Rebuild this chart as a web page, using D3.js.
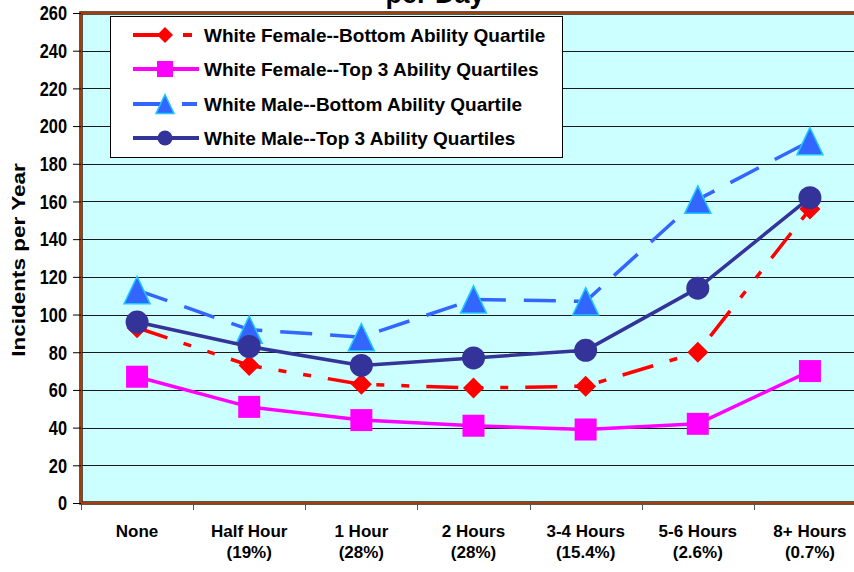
<!DOCTYPE html>
<html>
<head>
<meta charset="utf-8">
<script src="https://cdn.jsdelivr.net/npm/d3@7/dist/d3.min.js"></script>
<style>
  html, body { margin: 0; padding: 0; background: #ffffff; }
  svg { display: block; font-family: "Liberation Sans", Arial, sans-serif; font-weight: bold; }
</style>
</head>
<body>
<div id="chart"></div>
<script>
// Hours of TV per day (share of sample in parentheses)
const categories = ["None", "Half Hour", "1 Hour", "2 Hours", "3-4 Hours", "5-6 Hours", "8+ Hours"];
const shares = ["", "(19%)", "(28%)", "(28%)", "(15.4%)", "(2.6%)", "(0.7%)"];

// Incidents per year for each group
const femaleBottom = [93, 73, 63, 61, 62, 80, 156];
const femaleTop = [67, 51, 44, 41, 39, 42, 70];
const maleBottom = [113, 92, 88, 108, 107, 161, 192];
const maleTop = [96, 83, 73, 77, 81, 114, 162];

const seriesNames = [
  "White Female--Bottom Ability Quartile",
  "White Female--Top 3 Ability Quartiles",
  "White Male--Bottom Ability Quartile",
  "White Male--Top 3 Ability Quartiles"
];

const yTicks = [0, 20, 40, 60, 80, 100, 120, 140, 160, 180, 200, 220, 240, 260];

const W = 854, H = 572;
const plot = { left: 81, right: 866, top: 13, bottom: 503 };

const svg = d3.select("#chart").append("svg")
  .attr("width", W).attr("height", H);

const x = d3.scaleBand().domain(categories).range([plot.left, plot.right]).padding(0);
const y = d3.scaleLinear().domain([0, 260]).range([plot.bottom, plot.top]);
const cx = c => x(c) + x.bandwidth() / 2;

// Plot background
svg.append("rect")
  .attr("x", plot.left).attr("y", plot.top)
  .attr("width", plot.right - plot.left).attr("height", plot.bottom - plot.top)
  .attr("fill", "#CCFFFF");

// Horizontal gridlines
svg.append("g").selectAll("line")
  .data(yTicks.filter(t => t > 0 && t < 260))
  .join("line")
  .attr("x1", plot.left).attr("x2", plot.right)
  .attr("y1", d => Math.round(y(d)) + 0.5).attr("y2", d => Math.round(y(d)) + 0.5)
  .attr("stroke", "#1a1a1a").attr("stroke-width", 1);

// Plot frame: dark outline with brown core
svg.append("rect")
  .attr("x", plot.left).attr("y", plot.top)
  .attr("width", plot.right - plot.left).attr("height", plot.bottom - plot.top)
  .attr("fill", "none").attr("stroke", "#3a1a08").attr("stroke-width", 3.5);
svg.append("rect")
  .attr("x", plot.left).attr("y", plot.top)
  .attr("width", plot.right - plot.left).attr("height", plot.bottom - plot.top)
  .attr("fill", "none").attr("stroke", "#A0400A").attr("stroke-width", 2);

// Y axis
const yAxis = svg.append("g")
  .attr("transform", `translate(${plot.left},0)`)
  .call(d3.axisLeft(y).tickValues(yTicks).tickSize(8).tickPadding(6));
yAxis.select(".domain").remove();
yAxis.selectAll(".tick line").attr("stroke", "#000");
yAxis.selectAll(".tick text")
  .attr("font-size", 19.5).attr("font-weight", "bold").attr("fill", "#000")
  .attr("font-family", "'Liberation Sans', Arial, sans-serif")
  .attr("dy", "0.35em")
  // slightly condensed digits, right edge kept at the tick padding
  .attr("transform", "translate(-14,0) scale(0.84,1) translate(14,0)");

// X axis: tick marks at category boundaries
const xEdges = categories.map(c => x(c)).concat([plot.right]);
svg.append("g").selectAll("line")
  .data(xEdges)
  .join("line")
  .attr("x1", d => Math.round(d) + 0.5).attr("x2", d => Math.round(d) + 0.5)
  .attr("y1", plot.bottom).attr("y2", plot.bottom + 7)
  .attr("stroke", "#555").attr("stroke-width", 1);

// X category labels (two lines)
const xLab = svg.append("g").attr("font-size", 17).attr("fill", "#000").attr("text-anchor", "middle");
categories.forEach((c, i) => {
  xLab.append("text").attr("x", cx(c)).attr("y", 537).text(c);
  if (shares[i]) xLab.append("text").attr("x", cx(c)).attr("y", 558).text(shares[i]);
});

// Y axis title
svg.append("text")
  .attr("transform", "translate(25,260) scale(0.85,1) rotate(-90)")
  .attr("text-anchor", "middle").attr("font-size", 22.5).attr("fill", "#000")
  .text("Incidents per Year");

// Chart title (last line, sitting at the top edge)
svg.append("text")
  .attr("x", 435).attr("y", 3)
  .attr("text-anchor", "middle").attr("font-size", 27).attr("fill", "#000")
  .text("per Day");

// Series definitions
const series = [
  { name: seriesNames[0], values: femaleBottom, color: "#FF0000", dash: "32,17,8,17,8,17", marker: "diamond", legendDash: "27,23,9,40" },
  { name: seriesNames[1], values: femaleTop, color: "#FF00FF", dash: null, marker: "square", legendDash: null },
  { name: seriesNames[2], values: maleBottom, color: "#3366FF", dash: "32,18", marker: "triangle", legendDash: "32,17,15,50" },
  { name: seriesNames[3], values: maleTop, color: "#333399", dash: null, marker: "circle", legendDash: null }
];

function drawMarker(g, type, px, py, s, color) {
  if (type === "diamond") {
    g.append("path")
      .attr("d", `M${px},${py - s}L${px + s},${py}L${px},${py + s}L${px - s},${py}Z`)
      .attr("fill", color);
  } else if (type === "square") {
    g.append("rect")
      .attr("x", px - s).attr("y", py - s).attr("width", 2 * s).attr("height", 2 * s)
      .attr("fill", color);
  } else if (type === "triangle") {
    const h = s * 1.05;
    g.append("path")
      .attr("d", `M${px},${py - h}L${px + s},${py + h}L${px - s},${py + h}Z`)
      .attr("fill", color).attr("stroke", "#1EC8FF").attr("stroke-width", 1.5)
      .attr("stroke-linejoin", "miter");
  } else {
    g.append("circle").attr("cx", px).attr("cy", py).attr("r", s).attr("fill", color);
  }
}

const markerSize = { diamond: 10.5, square: 11, triangle: 13, circle: 11.5 };
const line = d3.line().x((d, i) => cx(categories[i])).y(d => y(d));

series.forEach(s => {
  const g = svg.append("g");
  g.append("path")
    .attr("d", line(s.values))
    .attr("fill", "none")
    .attr("stroke", s.color)
    .attr("stroke-width", 3.5)
    .attr("stroke-linejoin", "round")
    .attr("stroke-dasharray", s.dash);
  s.values.forEach((v, i) => drawMarker(g, s.marker, cx(categories[i]), y(v), markerSize[s.marker], s.color));
});

// Legend
const legend = svg.append("g");
legend.append("rect")
  .attr("x", 110.5).attr("y", 16.5).attr("width", 452).attr("height", 141)
  .attr("fill", "#ffffff").attr("stroke", "#000").attr("stroke-width", 1);

const legendRows = [35, 69, 104, 138];
const legendSize = { diamond: 8, square: 8, triangle: 9, circle: 7.5 };
series.forEach((s, i) => {
  const ly = legendRows[i];
  legend.append("line")
    .attr("x1", 133).attr("x2", 199).attr("y1", ly).attr("y2", ly)
    .attr("stroke", s.color).attr("stroke-width", 4)
    .attr("stroke-dasharray", s.legendDash);
  drawMarker(legend, s.marker, 165, ly, legendSize[s.marker], s.color);
  legend.append("text")
    .attr("x", 204).attr("y", ly + 7)
    .attr("font-size", 19).attr("fill", "#000")
    .text(s.name);
});
</script>
</body>
</html>
